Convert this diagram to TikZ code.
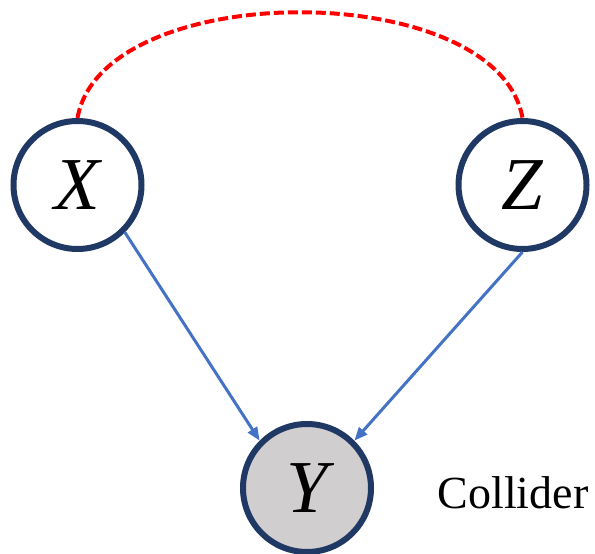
\documentclass[tikz,border=0pt]{standalone}
\usepackage{fontspec}
\setmainfont{Liberation Serif}
\usepackage{tikz}
\usetikzlibrary{positioning,arrows.meta}
\definecolor{navy}{RGB}{31,56,100}
\definecolor{edgeblue}{RGB}{68,114,196}
\definecolor{colgray}{RGB}{208,206,206}
\tikzset{
  var/.style={circle,draw=navy,line width=4.5pt,minimum size=96pt,inner sep=0pt,
             fill=white,font=\fontsize{56}{60}\selectfont\itshape},
  obsvar/.style={var,fill=colgray},
  cause/.style={-{Triangle[length=10pt,width=8pt]},line width=2.25pt,edgeblue},
  confound/.style={red,line width=3pt,dash pattern=on 7.5pt off 3pt},
}

\begin{document}
\begin{tikzpicture}[x=0.75pt,y=0.75pt]
  \useasboundingbox (0,0) rectangle (595,553);
  \node[var] (X) at (77.5,368) {X};
  \node[var,right=233.25pt of X] (Z) {Z};
  \node[obsvar] (Y) at (307,65) {Y};
  \node[anchor=base west,font=\fontsize{34.5}{40}\selectfont] (lbl) at (433,45) {Collider};
  \draw[cause] (X.-45) -- (Y.135);
  \draw[cause] (Z.270) -- (Y.45);
  \draw[confound] (X.north) .. controls +(25,141) and +(-25,141) .. (Z.north);
\end{tikzpicture}
\end{document}
